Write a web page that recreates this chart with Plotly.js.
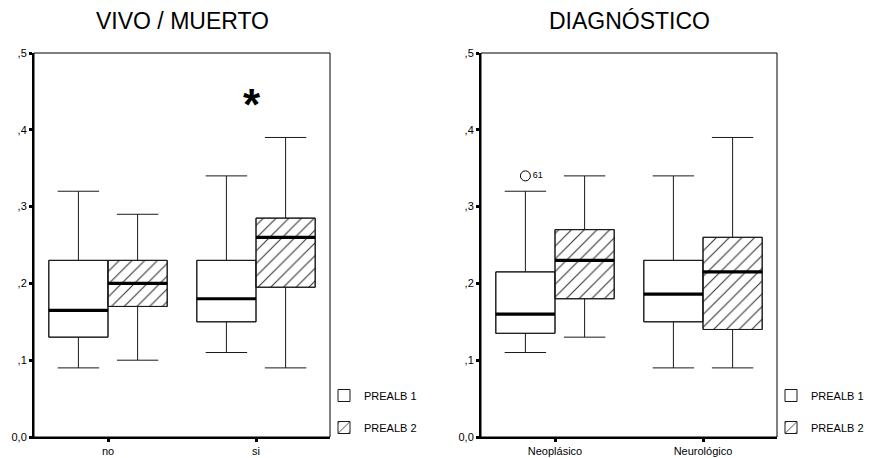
<!DOCTYPE html>
<html>
<head>
<meta charset="utf-8">
<script src="https://cdn.plot.ly/plotly-3.0.1.min.js"></script>
<style>
  html, body { margin: 0; padding: 0; background: #fff; }
  #chart { width: 874px; height: 458px; }
</style>
</head>
<body>
<div id="chart"></div>
<script>
// Prealbumin box plots (PREALB 1 vs PREALB 2) by outcome and by diagnosis.

// Panel 1: VIVO / MUERTO
const vivoCategories = ['no', 'si'];
const vivoP1Lower  = [0.09, 0.11];
const vivoP1Q1     = [0.13, 0.15];
const vivoP1Median = [0.165, 0.18];
const vivoP1Q3     = [0.23, 0.23];
const vivoP1Upper  = [0.32, 0.34];
const vivoP2Lower  = [0.10, 0.09];
const vivoP2Q1     = [0.17, 0.195];
const vivoP2Median = [0.20, 0.26];
const vivoP2Q3     = [0.23, 0.285];
const vivoP2Upper  = [0.29, 0.39];

// Panel 2: DIAGNÓSTICO
const diagCategories = ['Neoplásico', 'Neurológico'];
const diagP1Lower  = [0.11, 0.09];
const diagP1Q1     = [0.135, 0.15];
const diagP1Median = [0.16, 0.186];
const diagP1Q3     = [0.215, 0.23];
const diagP1Upper  = [0.32, 0.34];
const diagP2Lower  = [0.13, 0.09];
const diagP2Q1     = [0.18, 0.14];
const diagP2Median = [0.23, 0.215];
const diagP2Q3     = [0.27, 0.26];
const diagP2Upper  = [0.34, 0.39];

// Outlier case in the Neoplásico / PREALB 1 group
const outlierCategory = ['Neoplásico'];
const outlierValue = [0.34];
const outlierLabel = ['61'];

const seriesNames = ['PREALB 1', 'PREALB 2'];
const yTickVals = [0, 0.1, 0.2, 0.3, 0.4, 0.5];
const yTickText = ['0,0', ',1', ',2', ',3', ',4', ',5'];

// Side-by-side box placement around each category index
const BOX_W = 0.4;
const OFFSETS = [-0.2, 0.2];
const LINE = '#1a1a1a';
const HATCH = { shape: '/', fgcolor: '#333', bgcolor: '#fff', size: 9, solidity: 0.12 };

function positions(cats, s) { return cats.map((c, i) => i + OFFSETS[s]); }

function panelTraces(cats, stats, ax, legendId) {
  const traces = [];
  stats.forEach((st, s) => {
    const xs = positions(cats, s);
    // box body (hatched fill for the second series)
    traces.push({
      type: 'bar', x: xs, base: st.q1, y: st.q3.map((v, i) => v - st.q1[i]),
      width: BOX_W, name: seriesNames[s], legend: legendId, legendgroup: seriesNames[s],
      xaxis: ax.x, yaxis: ax.y, hoverinfo: 'skip',
      marker: {
        color: '#fff', line: { color: LINE, width: 1 },
        pattern: s === 1 ? HATCH : { shape: '' }
      }
    });
    // box outline, whiskers and caps
    traces.push({
      type: 'box', x: xs, q1: st.q1, median: st.median, q3: st.q3,
      lowerfence: st.lower, upperfence: st.upper, width: BOX_W,
      whiskerwidth: 0.7, boxpoints: false, showlegend: false,
      fillcolor: 'rgba(0,0,0,0)', line: { color: LINE, width: 1 },
      xaxis: ax.x, yaxis: ax.y, hoverinfo: 'skip'
    });
    // heavy median bars
    const mx = [], my = [];
    xs.forEach((x, i) => { mx.push(x - BOX_W / 2, x + BOX_W / 2, null); my.push(st.median[i], st.median[i], null); });
    traces.push({
      type: 'scatter', mode: 'lines', x: mx, y: my, showlegend: false,
      line: { color: '#000', width: 3.2 }, xaxis: ax.x, yaxis: ax.y, hoverinfo: 'skip'
    });
  });
  return traces;
}

const traces = [].concat(
  panelTraces(vivoCategories, [
    { lower: vivoP1Lower, q1: vivoP1Q1, median: vivoP1Median, q3: vivoP1Q3, upper: vivoP1Upper },
    { lower: vivoP2Lower, q1: vivoP2Q1, median: vivoP2Median, q3: vivoP2Q3, upper: vivoP2Upper }
  ], { x: 'x', y: 'y' }, 'legend'),
  panelTraces(diagCategories, [
    { lower: diagP1Lower, q1: diagP1Q1, median: diagP1Median, q3: diagP1Q3, upper: diagP1Upper },
    { lower: diagP2Lower, q1: diagP2Q1, median: diagP2Median, q3: diagP2Q3, upper: diagP2Upper }
  ], { x: 'x2', y: 'y2' }, 'legend2')
);

traces.push({
  type: 'scatter', mode: 'markers+text',
  x: outlierCategory.map(c => diagCategories.indexOf(c) + OFFSETS[0]),
  y: outlierValue, text: outlierLabel, textposition: 'middle right',
  textfont: { family: 'Liberation Sans, Arial, sans-serif', size: 9, color: '#000' },
  marker: { symbol: 'circle-open', size: 10, color: '#000', line: { width: 1 } },
  showlegend: false, xaxis: 'x2', yaxis: 'y2', hoverinfo: 'skip'
});

const FONT = 'Liberation Sans, Arial, sans-serif';

function xAxis(domain, cats, anchor) {
  return {
    domain: domain, anchor: anchor, range: [-0.5, 1.5],
    tickvals: cats.map((c, i) => i), ticktext: cats,
    showgrid: false, zeroline: false, showline: true, linecolor: '#000', linewidth: 2,
    ticks: 'outside', ticklen: 3, tickwidth: 3, tickcolor: '#000',
    tickfont: { family: FONT, size: 11, color: '#000' }, fixedrange: true
  };
}
function yAxis(anchor) {
  return {
    domain: [21 / 458, 405 / 458], anchor: anchor, range: [0, 0.5],
    tickvals: yTickVals, ticktext: yTickText,
    showgrid: false, zeroline: false, showline: true, linecolor: '#000', linewidth: 2,
    ticks: 'outside', ticklen: 3, tickwidth: 3, tickcolor: '#000',
    tickfont: { family: FONT, size: 11, color: '#000' }, fixedrange: true
  };
}

const legendBase = {
  bgcolor: 'rgba(0,0,0,0)', borderwidth: 0, tracegroupgap: 13,
  font: { family: FONT, size: 11, color: '#000' },
  xanchor: 'left', yanchor: 'top', itemclick: false, itemdoubleclick: false
};

const layout = {
  width: 874, height: 458,
  margin: { l: 0, r: 0, t: 0, b: 0 },
  paper_bgcolor: '#fff', plot_bgcolor: '#fff',
  showlegend: true, barmode: 'overlay',
  xaxis: xAxis([34 / 874, 330 / 874], vivoCategories, 'y'),
  yaxis: yAxis('x'),
  xaxis2: xAxis([481 / 874, 777 / 874], diagCategories, 'y2'),
  yaxis2: yAxis('x2'),
  legend: Object.assign({}, legendBase, { x: 324 / 874, y: 1 - 381 / 458 }),
  legend2: Object.assign({}, legendBase, { x: 771 / 874, y: 1 - 381 / 458 }),
  shapes: [
    { type: 'rect', xref: 'x domain', yref: 'y domain', x0: 0, x1: 1, y0: 0, y1: 1, line: { color: '#000', width: 1 } },
    { type: 'rect', xref: 'x2 domain', yref: 'y2 domain', x0: 0, x1: 1, y0: 0, y1: 1, line: { color: '#000', width: 1 } }
  ],
  annotations: [
    { text: 'VIVO / MUERTO', xref: 'x domain', yref: 'paper', x: 0.5, y: 1 - 21 / 458,
      xanchor: 'center', yanchor: 'middle', showarrow: false,
      font: { family: FONT, size: 23, color: '#000' } },
    { text: 'DIAGNÓSTICO', xref: 'x2 domain', yref: 'paper', x: 0.5, y: 1 - 21 / 458,
      xanchor: 'center', yanchor: 'middle', showarrow: false,
      font: { family: FONT, size: 23, color: '#000' } },
    { text: '<b>*</b>', xref: 'x', yref: 'y', x: 0.97, y: 0.433,
      xanchor: 'center', yanchor: 'middle', showarrow: false,
      font: { family: FONT, size: 44, color: '#000' } }
  ]
};

Plotly.newPlot('chart', traces, layout, { staticPlot: true, displayModeBar: false });
</script>
</body>
</html>
